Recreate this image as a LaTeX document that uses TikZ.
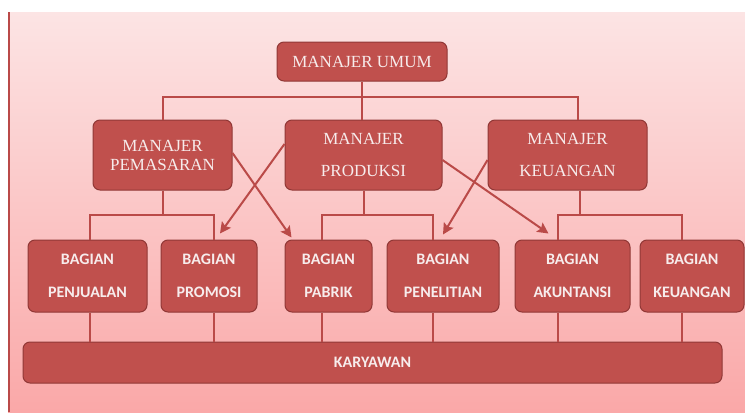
\documentclass[tikz,border=0pt]{standalone}
\usepackage{fontspec}
\setmainfont{Liberation Serif}
\newfontfamily\calfont{Carlito}
\usepackage{tikz}
\usetikzlibrary{calc, positioning, arrows.meta}

\definecolor{bgtop}{RGB}{252,228,228}
\definecolor{bgbot}{RGB}{250,168,168}
\definecolor{boxred}{RGB}{192,80,77}
\definecolor{boxedge}{RGB}{145,56,54}
\definecolor{linkred}{RGB}{186,74,72}
\definecolor{boxtext}{RGB}{247,236,236}

\tikzset{
    manbox/.style={draw=boxedge, line width=1pt, fill=boxred, rounded corners=7pt,
        text=boxtext, align=center, inner sep=0pt, minimum height=70pt,
        font=\fontsize{17}{19}\selectfont},
    bagbox/.style={manbox, minimum height=72pt,
        font=\calfont\bfseries\fontsize{16}{19}\selectfont},
    link/.style={draw=linkred, line width=2pt},
    thinlink/.style={draw=linkred, line width=2pt},
    jump/.style={link, -{Stealth[length=11pt, width=11pt, inset=2pt]}}
}

\begin{document}
\begin{tikzpicture}[x=1pt, y=-1pt]
    \fill[white] (0,0) rectangle (745,412);
    \shade[top color=bgtop, bottom color=bgbot] (8,12) rectangle (745,412);
    \draw[linkred, line width=1.5pt] (9,12) -- (9,412);
    \useasboundingbox (0,0) rectangle (745,412);

    \node[manbox, minimum width=170pt, minimum height=39pt] (umum) at (362,61.5) {MANAJER UMUM};

    \node[manbox, minimum width=139pt] (pemasaran) at (162.5,155) {MANAJER\\PEMASARAN};
    \node[manbox, minimum width=157pt] (produksi) at (363.5,155) {MANAJER\\[13pt]PRODUKSI};
    \node[manbox, minimum width=159pt] (keuangan) at (567.5,155) {MANAJER\\[13pt]KEUANGAN};

    \node[bagbox, minimum width=119pt] (penjualan) at (87.5,276) {BAGIAN\\[14pt]PENJUALAN};
    \node[bagbox, minimum width=96pt] (promosi) at (209,276) {BAGIAN\\[14pt]PROMOSI};
    \node[bagbox, minimum width=87pt] (pabrik) at (328.5,276) {BAGIAN\\[14pt]PABRIK};
    \node[bagbox, minimum width=112pt] (penelitian) at (443,276) {BAGIAN\\[14pt]PENELITIAN};
    \node[bagbox, minimum width=115pt] (akuntansi) at (572.5,276) {BAGIAN\\[14pt]AKUNTANSI};
    \node[bagbox, minimum width=104pt] (bagkeu) at (692,276) {BAGIAN\\[14pt]KEUANGAN};

    \node[bagbox, minimum width=699pt, minimum height=41pt] (karyawan) at (372.5,362.5) {KARYAWAN};

    \coordinate (bus1) at (0,97);
    \coordinate (bus2) at (0,215);
    \coordinate (k1) at ([xshift=10pt]keuangan.north);
    \coordinate (k2) at ([xshift=12pt]keuangan.south);
    \coordinate (d1) at ([xshift=2pt]penjualan.north);
    \coordinate (d2) at ([xshift=5pt]promosi.north);
    \coordinate (d3) at ([xshift=-7pt]pabrik.north);
    \coordinate (d4) at ([xshift=-10pt]penelitian.north);
    \coordinate (d5) at ([xshift=-15pt]akuntansi.north);
    \coordinate (d6) at ([xshift=-10pt]bagkeu.north);

    \draw[link] (umum.south) -- (umum.south |- produksi.north);
    \draw[link] (pemasaran.north) |- (bus1 -| k1) -- (k1);

    \draw[link] (pemasaran.south) -- (pemasaran.south |- bus2);
    \draw[link] (d1) |- (bus2 -| d2) -- (d2);
    \draw[link] (produksi.south) -- (produksi.south |- bus2);
    \draw[link] (d3) |- (bus2 -| d4) -- (d4);
    \draw[link] (k2) -- (k2 |- bus2);
    \draw[link] (d5) |- (bus2 -| d6) -- (d6);

    \foreach \d/\n in {d1/penjualan, d2/promosi, d3/pabrik, d4/penelitian, d5/akuntansi, d6/bagkeu}
        \draw[thinlink] (\d |- \n.south) -- (\d |- karyawan.north);

    \draw[jump] ([yshift=11pt]produksi.west) -- ([xshift=11pt, yshift=6pt]promosi.north);
    \draw[jump] ([yshift=2pt]pemasaran.east) -- ([xshift=7pt, yshift=2pt]pabrik.north west);
    \draw[jump] ([yshift=-5pt]keuangan.west) -- ([yshift=5pt]penelitian.north);
    \draw[jump] ([yshift=-5pt]produksi.east) -- ([xshift=-24pt, yshift=6pt]akuntansi.north);
\end{tikzpicture}
\end{document}
